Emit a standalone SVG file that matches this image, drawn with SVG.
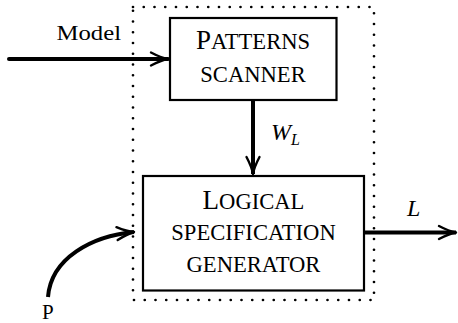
<svg xmlns="http://www.w3.org/2000/svg" width="458" height="323" viewBox="0 0 458 323">
<defs>
<marker id="ah" markerUnits="userSpaceOnUse" markerWidth="20" markerHeight="16" viewBox="-18 -8 20 16" refX="0" refY="0" orient="auto" overflow="visible">
<path d="M-17,-6.5 Q-7,-1.2 0,0 Q-7,1.2 -17,6.5" fill="none" stroke="#000" stroke-width="2.4" stroke-linecap="round" stroke-linejoin="round"/>
</marker>
</defs>
<style>
.box{fill:#fff;stroke:#000;stroke-width:2.2}
.con{fill:none;stroke:#000;stroke-width:4;marker-end:url(#ah)}
.t{font-family:'Liberation Serif',serif;fill:#000}
.sc{font-size:22.6px}
.big{font-size:27px}
.it{font-style:italic}
</style>
<rect x="133" y="7" width="241" height="293" fill="none" stroke="#000" stroke-width="2.7" stroke-linecap="round" stroke-dasharray="0 10.75"/>
<g id="connectors">
<path class="con" d="M9,59 L168,59" stroke-linecap="round"/>
<path class="con" d="M253,100 L253,174"/>
<path class="con" d="M364,232.5 L456,232.5"/>
<path class="con" d="M48,297 C51,258 92,236 134,232"/>
</g>
<g id="patterns-scanner">
<rect class="box" x="170" y="18" width="166.5" height="82"/>
<text class="t sc" x="253" y="49.3" text-anchor="middle"><tspan class="big">P</tspan>ATTERNS</text>
<text class="t sc" x="253" y="82.3" text-anchor="middle">SCANNER</text>
</g>
<g id="logical-spec-generator">
<rect class="box" x="143" y="176" width="221" height="114.5"/>
<text class="t sc" x="253.5" y="208.5" text-anchor="middle"><tspan class="big">L</tspan>OGICAL</text>
<text class="t sc" x="253.5" y="240" text-anchor="middle">SPECIFICATION</text>
<text class="t sc" x="253.5" y="271.7" text-anchor="middle">GENERATOR</text>
</g>
<g id="labels">
<text class="t" x="56.5" y="39.5" font-size="21" textLength="64.5" lengthAdjust="spacingAndGlyphs">Model</text>
<text class="t it" x="271" y="140" font-size="24">W<tspan font-size="16" dy="5">L</tspan></text>
<text class="t it" x="407" y="216" font-size="24">L</text>
<text class="t" x="42" y="318.5" font-size="21">P</text>
</g>
</svg>
